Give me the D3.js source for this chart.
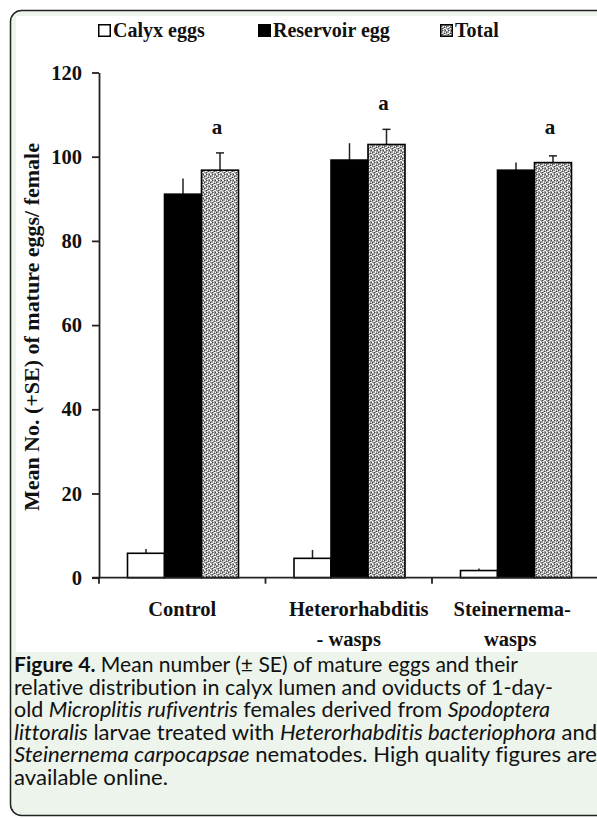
<!DOCTYPE html>
<html>
<head>
<meta charset="utf-8">
<script src="https://cdn.jsdelivr.net/npm/d3@7"></script>
<style>
  body { margin: 0; background: #fff; }
  .serif { font-family: "Liberation Serif", "Times New Roman", serif; font-weight: bold; fill: #111; }
  .cap { font-family: Lato, "Open Sans", sans-serif; fill: #111; font-variant-ligatures: none; }
</style>
</head>
<body>
<div id="chart"></div>
<script>
// Data
const categories = ['Control', 'Heterorhabditis - wasps', 'Steinernema-wasps'];
const categoryLines = [['Control'], ['Heterorhabditis', '- wasps'], ['Steinernema-', 'wasps']];
const series = ['Calyx eggs', 'Reservoir egg', 'Total'];
const calyx = [5.8, 4.6, 1.7];
const calyxSE = [1.0, 2.0, 0.5];
const reservoir = [91.1, 99.2, 96.8];
const reservoirSE = [3.7, 4.0, 1.8];
const total = [96.8, 102.9, 98.6];
const totalSE = [4.1, 3.6, 1.6];
const letters = ['a', 'a', 'a'];
const letterAt = [105.4, 111.1, 105.4];
const yTicks = [0, 20, 40, 60, 80, 100, 120];

const captionLines = [
  [['Figure 4.', 'b'], [' Mean number (\u00b1 SE) of mature eggs and their', 'n']],
  [['relative distribution in calyx lumen and oviducts of 1-day-', 'n']],
  [['old ', 'n'], ['Microplitis rufiventris', 'i'], [' females derived from ', 'n'], ['Spodoptera', 'i']],
  [['littoralis', 'i'], [' larvae treated with ', 'n'], ['Heterorhabditis bacteriophora', 'i'], [' and', 'n']],
  [['Steinernema carpocapsae', 'i'], [' nematodes. High quality figures are', 'n']],
  [['available online.', 'n']]
];
// measured widths of the caption lines in the picture
const captionWidths = [504, 539, 536, 583, 583, 154];

const W = 597, H = 818;
const svg = d3.select('#chart').append('svg').attr('width', W).attr('height', H);

// frame: green panel with rounded border, white chart area
svg.append('rect').attr('x', 10.5).attr('y', 10.5).attr('width', 640).attr('height', 805)
  .attr('rx', 11).attr('fill', '#ecf4ec').attr('stroke', '#222').attr('stroke-width', 1.5);
svg.append('rect').attr('x', 16).attr('y', 16).attr('width', 600).attr('height', 636).attr('fill', '#fff');

// stipple pattern for Total
const defs = svg.append('defs');
const pat = defs.append('pattern').attr('id', 'stip').attr('patternUnits', 'userSpaceOnUse')
  .attr('width', 6).attr('height', 6);
pat.append('rect').attr('width', 6).attr('height', 6).attr('fill', '#9a9a9a');
[[0, 0, 2, 1], [3, 1, 1, 2], [1, 3, 2, 1], [4, 4, 2, 1], [0, 5, 1, 1], [5, 2, 1, 1], [3, 5, 1, 1]].forEach(d => {
  pat.append('rect').attr('x', d[0]).attr('y', d[1]).attr('width', d[2]).attr('height', d[3]).attr('fill', '#f6f6f6');
});
[[2, 0], [5, 0], [0, 2], [2, 4], [4, 3]].forEach(d => {
  pat.append('rect').attr('x', d[0]).attr('y', d[1]).attr('width', 1).attr('height', 1).attr('fill', '#444');
});

// scales
const y = d3.scaleLinear().domain([0, 120]).range([577.7, 72.5]);
const x0 = d3.scaleBand().domain(categories).range([99, 598.5]);
const x1 = d3.scaleBand().domain(series).range([28.5, 139.5]);

const fills = { 'Calyx eggs': '#fff', 'Reservoir egg': '#000', 'Total': 'url(#stip)' };
const caps = { 'Calyx eggs': 0, 'Reservoir egg': 0, 'Total': 4 };

const rows = [];
categories.forEach((c, i) => {
  rows.push({ cat: c, s: 'Calyx eggs', v: calyx[i], se: calyxSE[i] });
  rows.push({ cat: c, s: 'Reservoir egg', v: reservoir[i], se: reservoirSE[i] });
  rows.push({ cat: c, s: 'Total', v: total[i], se: totalSE[i] });
});
const cx = d => x0(d.cat) + x1(d.s) + x1.bandwidth() / 2;

// error bars
const err = svg.append('g').attr('stroke', '#222').attr('stroke-width', 1.5);
err.selectAll('line.v').data(rows).join('line').attr('class', 'v')
  .attr('x1', cx).attr('x2', cx).attr('y1', d => y(d.v)).attr('y2', d => y(d.v + d.se));
err.selectAll('line.c').data(rows.filter(d => caps[d.s] > 0)).join('line').attr('class', 'c')
  .attr('x1', d => cx(d) - caps[d.s]).attr('x2', d => cx(d) + caps[d.s])
  .attr('y1', d => y(d.v + d.se)).attr('y2', d => y(d.v + d.se));

// bars
svg.append('g').selectAll('rect').data(rows).join('rect')
  .attr('x', d => x0(d.cat) + x1(d.s))
  .attr('y', d => y(d.v))
  .attr('width', x1.bandwidth())
  .attr('height', d => y(0) - y(d.v))
  .attr('fill', d => fills[d.s])
  .attr('stroke', '#000').attr('stroke-width', 1.6);

// letters
svg.append('g').selectAll('text').data(categories).join('text').attr('class', 'serif')
  .attr('x', c => x0(c) + x1('Total') + x1.bandwidth() / 2 - 3)
  .attr('y', (c, i) => y(letterAt[i]))
  .attr('text-anchor', 'middle').style('font-size', '21px')
  .text((c, i) => letters[i]);

// y axis
const yAxis = svg.append('g').attr('transform', 'translate(99,0)')
  .call(d3.axisLeft(y).tickValues(yTicks).tickSize(7).tickSizeOuter(0).tickPadding(10));
yAxis.select('.domain').attr('stroke', '#222').attr('stroke-width', 1.8);
yAxis.selectAll('.tick line').attr('stroke', '#222').attr('stroke-width', 1.8);
yAxis.selectAll('.tick text').attr('class', 'serif').style('font-size', '20.5px').attr('fill', '#111');

// x axis
const xg = svg.append('g').attr('stroke', '#222').attr('stroke-width', 1.8);
xg.append('line').attr('x1', 92).attr('x2', W).attr('y1', y(0)).attr('y2', y(0));
xg.selectAll('line.t').data(categories).join('line').attr('class', 't')
  .attr('x1', c => x0(c)).attr('x2', c => x0(c)).attr('y1', y(0)).attr('y2', y(0) + 6);

// category labels (small per-line nudges as in the picture)
const labelDx = [[0], [10, 0], [-3, -5]];
const labs = svg.append('g').selectAll('text').data(categories).join('text').attr('class', 'serif')
  .attr('text-anchor', 'middle').style('font-size', '20.5px');
labs.each(function (c, i) {
  d3.select(this).selectAll('tspan').data(categoryLines[i]).join('tspan')
    .attr('x', (t, k) => x0(c) + x0.bandwidth() / 2 + labelDx[i][k])
    .attr('y', (t, k) => 616 + k * 30)
    .text(t => t);
});

// y label
svg.append('text').attr('class', 'serif').style('font-size', '20px')
  .attr('transform', `translate(39,${(y(0) + y(120)) / 2 + 2}) rotate(-90)`)
  .attr('text-anchor', 'middle')
  .attr('textLength', 368).attr('lengthAdjust', 'spacingAndGlyphs')
  .text('Mean No. (+SE) of mature eggs/ female');

// legend
const legX = [98, 258, 440];
const leg = svg.append('g').selectAll('g').data(series).join('g')
  .attr('transform', (s, i) => `translate(${legX[i]},24)`);
leg.append('rect').attr('x', 0.75).attr('y', 0.75).attr('width', 11.5).attr('height', 11.5)
  .attr('fill', s => fills[s]).attr('stroke', '#000').attr('stroke-width', 1.5);
leg.append('text').attr('class', 'serif').style('font-size', '20px')
  .attr('x', 15).attr('y', 12.5).text(s => s);

// caption
const cap = svg.append('g').attr('class', 'cap').style('font-size', '21px');
captionLines.forEach((line, k) => {
  const t = cap.append('text').attr('x', 14).attr('y', 672 + k * 22.6)
    .attr('textLength', captionWidths[k]).attr('lengthAdjust', 'spacingAndGlyphs');
  line.forEach(p => {
    t.append('tspan').text(p[0])
      .style('font-weight', p[1] === 'b' ? 'bold' : 'normal')
      .style('font-style', p[1] === 'i' ? 'italic' : 'normal');
  });
});
</script>
</body>
</html>
